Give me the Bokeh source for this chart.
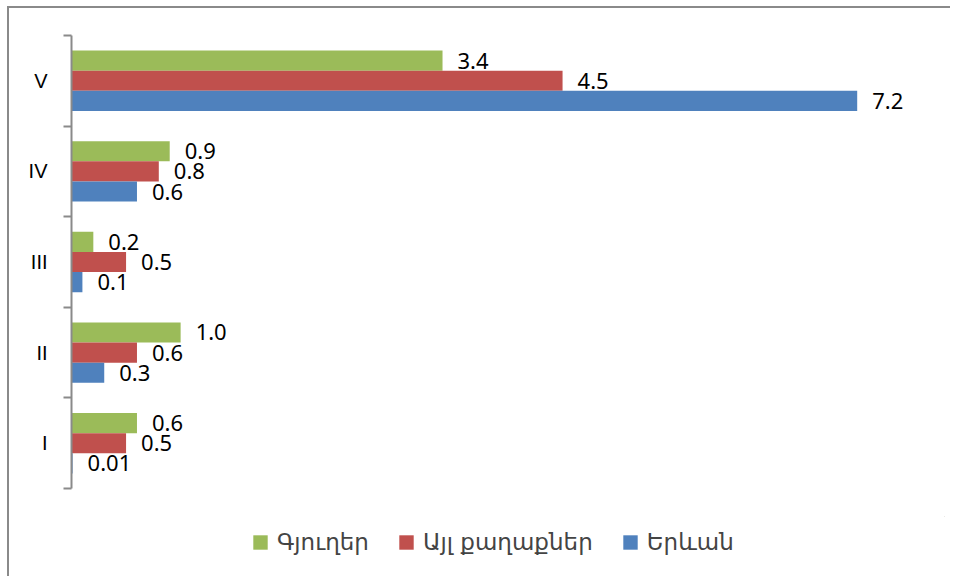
from bokeh.plotting import figure
from bokeh.models import ColumnDataSource, Range1d, FixedTicker, Legend, LegendItem
from bokeh.layouts import column
from bokeh.embed import file_html
from bokeh.resources import INLINE
from bokeh.core.properties import value

categories = ["I", "II", "III", "IV", "V"]
series_names = ["Գյուղեր", "Այլ քաղաքներ", "Երևան"]
villages = [0.6, 1.0, 0.2, 0.9, 3.4]
other_cities = [0.5, 0.6, 0.5, 0.8, 4.5]
yerevan = [0.01, 0.3, 0.1, 0.6, 7.2]
colors = ["#9BBB59", "#C0504D", "#4F81BD"]

def fmt(v):
    return f"{v:.1f}" if v >= 0.1 else f"{v:.2f}"

p = figure(width=941, height=508, output_backend="svg", toolbar_location=None,
           x_range=Range1d(0, 8), y_range=Range1d(0, len(categories)),
           x_axis_location=None, min_border_left=62, min_border_top=27,
           min_border_bottom=28, min_border_right=6)
p.outline_line_color = None
p.xgrid.visible = False
p.ygrid.visible = False

bar_h = 1 / 4.5
offsets = [bar_h, 0.0, -bar_h]
for vals, off, col in zip([villages, other_cities, yerevan], offsets, colors):
    src = ColumnDataSource(dict(
        y=[i + 0.5 + off for i in range(len(categories))],
        v=vals,
        lab=[fmt(v) for v in vals],
    ))
    p.hbar(y="y", right="v", left=0, height=bar_h, source=src, color=col, line_color=None)
    p.text(x="v", y="y", text="lab", source=src, x_offset=15, y_offset=0,
           text_baseline="middle", text_align="left", text_font=value("Noto Sans"),
           text_font_size="22px", text_color="#000000")

ax = p.yaxis[0]
ax.ticker = FixedTicker(ticks=[i + 0.5 for i in range(len(categories))],
                        minor_ticks=list(range(len(categories) + 1)))
ax.major_label_overrides = {i + 0.5: c for i, c in enumerate(categories)}
ax.major_tick_out = 0
ax.major_tick_in = 0
ax.minor_tick_out = 8
ax.minor_tick_in = 0
ax.minor_tick_line_color = "#8a8a8a"
ax.minor_tick_line_width = 2
ax.axis_line_color = "#8a8a8a"
ax.axis_line_width = 2
ax.major_label_text_font = "Liberation Sans"
ax.major_label_text_font_size = "20px"
ax.major_label_text_color = "#000000"
ax.major_label_standoff = 16

# legend in a small figure below (frames are aligned by the column layout)
lf = figure(width=941, height=60, output_backend="svg", toolbar_location=None,
            x_range=Range1d(0, 1), y_range=Range1d(0, 1),
            x_axis_location=None, y_axis_location=None,
            min_border=0)
lf.outline_line_color = None
lf.xgrid.visible = False
lf.ygrid.visible = False
items = []
for col, name in zip(colors, series_names):
    r = lf.hbar(y=[50], right=[50], left=40, height=0.1, color=col, line_color=None)
    items.append(LegendItem(label=name, renderers=[r]))
legend = Legend(items=items, orientation="horizontal", location=(180, 21),
                label_text_font="DejaVu Sans", label_text_font_size="23px",
                glyph_width=18, glyph_height=18, spacing=28, label_standoff=8,
                border_line_color=None, background_fill_alpha=0, padding=0, margin=0)
lf.add_layout(legend, "center")

layout = column(p, lf, spacing=0)
layout.styles = {"border-top": "2px solid #8a8a8a", "border-left": "2px solid #8a8a8a",
                 "margin-top": "6px", "margin-left": "7px"}

open("out.html", "w").write(file_html(layout, INLINE))
